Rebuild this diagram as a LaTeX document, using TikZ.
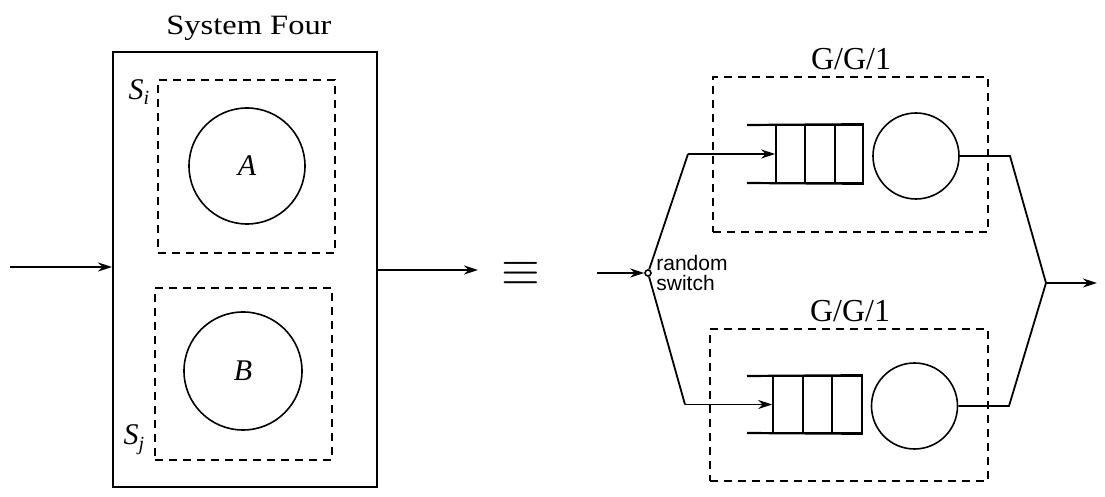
\documentclass[tikz,border=0pt]{standalone}
\usepackage{fontspec}
\setmainfont{Liberation Serif}
\newfontfamily\sansf{Liberation Sans}
\usetikzlibrary{arrows.meta}
\begin{document}
\begin{tikzpicture}[x=0.5pt,y=-0.5pt,
  ln/.style={line width=0.9pt},
  dbox/.style={draw,dash pattern=on 4pt off 3pt,line width=0.9pt,inner sep=0pt},
  arr/.style={ln,-{Stealth[length=7pt,width=4.5pt]}},
  srv/.style={draw,circle,line width=0.8pt,inner sep=0pt},
  qcells/.style={draw,line width=0.8pt,inner sep=0pt,minimum width=43.5pt,minimum height=29pt},
  lbl/.style={inner sep=0pt,font=\fontsize{14}{16}\selectfont},
  ]
\useasboundingbox (0,0) rectangle (1105,497);

% ---------- left: System Four ----------
\node[draw,line width=1pt,inner sep=0pt,minimum width=132pt,minimum height=217.5pt] (sys) at (245,269.5) {};
\node[lbl] (title) at (249,28) {\scalebox{1.16}[1]{System Four}};
\node[dbox,minimum width=88.5pt,minimum height=86.5pt] (si) at (246.5,166.5) {};
\node[dbox,minimum width=88.5pt,minimum height=86pt] (sj) at (243.5,374) {};
\node[srv,minimum size=58pt] (A) at (247,166) {};
\node[srv,minimum size=59pt] (B) at (243,371) {};
\node[lbl,font=\fontsize{15}{17}\selectfont] at (A) {\textit{A}};
\node[lbl,font=\fontsize{15}{17}\selectfont] at (B) {\textit{B}};
\node[lbl,font=\fontsize{15}{17}\selectfont] (silbl) at (139,92) {\textit{S}\raisebox{-0.35ex}{\fontsize{10}{12}\selectfont\textit{i}}};
\node[lbl,font=\fontsize{15}{17}\selectfont] (sjlbl) at (134,440) {\textit{S}\raisebox{-0.45ex}{\fontsize{10}{12}\selectfont\textit{j}}};

\coordinate (inL) at (10,267);
\draw[arr] (inL) -- (inL -| sys.west);
\coordinate (outR) at (478,270);
\draw[arr] (outR -| sys.east) -- (outR);

% ---------- equivalence ----------
\node[inner sep=0pt] (eq) at (521,274) {\fontsize{28}{28}\selectfont$\equiv$};

% ---------- right: random switch ----------
\node[draw,circle,inner sep=0pt,minimum size=3pt,line width=0.8pt] (sw) at (648,273) {};
\coordinate (swin) at (597,273);
\draw[arr] (swin) -- (sw.west);
\node[anchor=west,align=left,inner sep=0pt,font=\sansf\fontsize{10.5}{10}\selectfont] (swl) at (656,273) {random\\switch};

% upper G/G/1
\node[dbox,minimum width=137.5pt,minimum height=77.5pt] (g1) at (850.5,154.5) {};
\node[lbl,font=\fontsize{16}{18}\selectfont] (g1l) at (851,59) {G/G/1};
\node[qcells] (q1) at (819.5,154) {};
\draw[line width=0.8pt] (805,125) -- (805,183) (835,125) -- (835,183);
\draw[line width=1.1pt] (747,125) -- (q1.north east) (747,183) -- (q1.south east);
\node[srv,minimum size=43pt] (s1) at (916,156) {};
\coordinate (c1) at (688,154);
\draw[ln] (sw) -- (c1);
\draw[arr] (c1) -- (q1.west);

% lower G/G/1
\node[dbox,minimum width=139pt,minimum height=76pt] (g2) at (849,405) {};
\node[lbl,font=\fontsize{16}{18}\selectfont] (g2l) at (850,311) {G/G/1};
\node[qcells,minimum width=44.5pt,minimum height=28.5pt] (q2) at (817.5,404.5) {};
\draw[line width=0.8pt] (803,376) -- (803,433) (832,376) -- (832,433);
\draw[line width=1.1pt] (747,376) -- (q2.north east) (747,433) -- (q2.south east);
\node[srv,minimum size=43pt] (s2) at (914.5,406) {};
\coordinate (c2) at (685,404.5);
\draw[ln] (sw) -- (c2);
\draw[arr] (c2) -- (q2.west);

% merge
\coordinate (m) at (1046,283);
\coordinate (d1) at (1010,156);
\coordinate (d2) at (1009,406);
\coordinate (outF) at (1097,283);
\draw[ln] (s1.east) -- (d1) -- (m);
\draw[ln] (s2.east) -- (d2) -- (m);
\draw[arr] (m) -- (outF);
\end{tikzpicture}
\end{document}
